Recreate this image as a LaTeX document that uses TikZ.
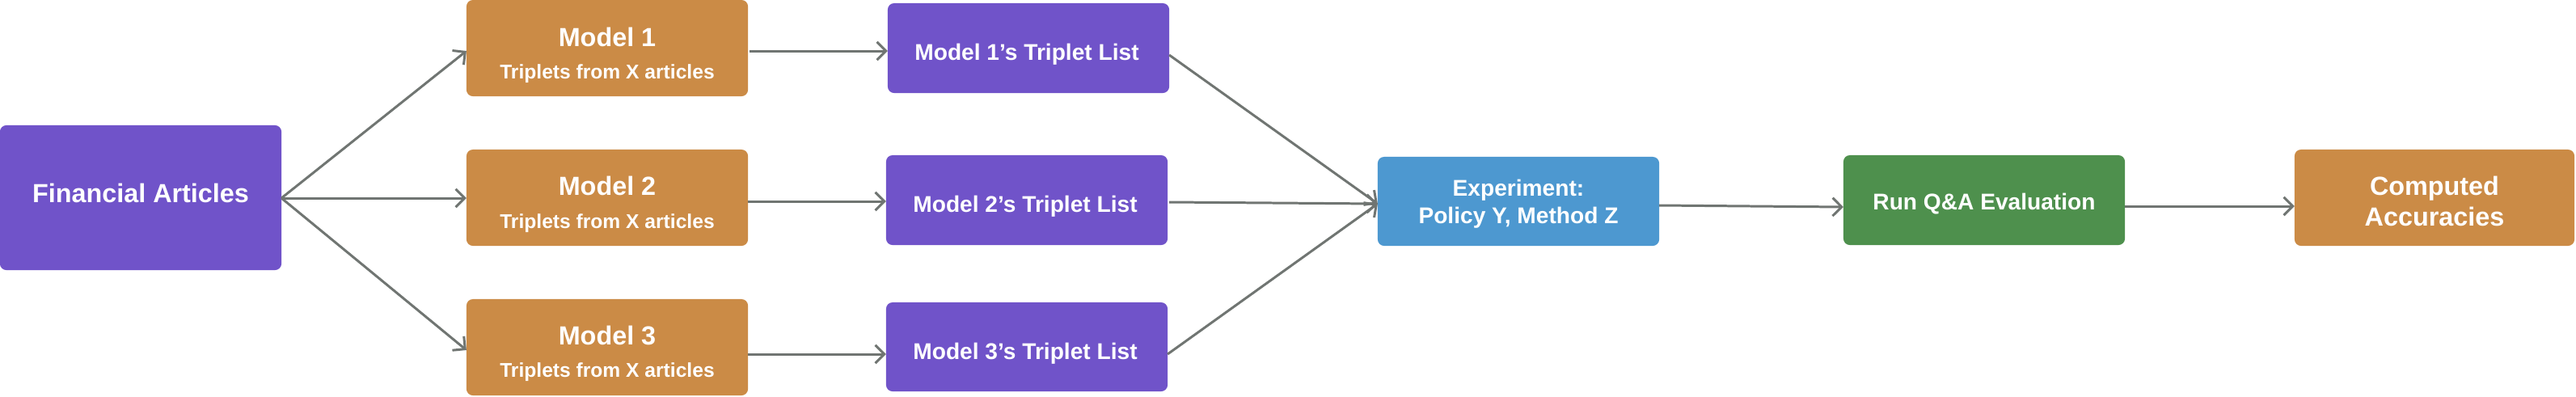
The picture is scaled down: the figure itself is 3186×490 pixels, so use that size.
\documentclass[tikz,border=0pt]{standalone}
\usepackage{fontspec}
\setmainfont{Liberation Sans}
\usetikzlibrary{arrows.meta}
\definecolor{cpurple}{RGB}{112,83,201}
\definecolor{corange}{RGB}{203,139,70}
\definecolor{cblue}{RGB}{77,152,208}
\definecolor{cgreen}{RGB}{78,144,77}
\definecolor{carrow}{RGB}{112,117,114}
\begin{document}
\begin{tikzpicture}[x=0.01cm,y=-0.01cm,
  box/.style={rounded corners=0.08cm, inner sep=0pt, outer sep=0pt, draw=none},
  bigbox/.style={box, minimum width=3.48cm},
  txt/.style={anchor=base, inner sep=0pt, text=white, font=\bfseries},
  big/.style={txt, font=\bfseries\fontsize{9.2}{11}\selectfont},
  mid/.style={txt, font=\bfseries\fontsize{8}{10}\selectfont},
  small/.style={txt, font=\bfseries\fontsize{7}{9}\selectfont},
  arr/.style={draw=carrow, line width=0.85pt, -{Straight Barb[length=3.2pt,width=6.4pt,line width=0.85pt]}}
]
\useasboundingbox (0,0) rectangle (3186,490);

% boxes
\node[bigbox, fill=cpurple, minimum height=1.79cm] (fa) at (174,244.5) {};
\node[bigbox, fill=corange, minimum height=1.19cm] (m1) at (751,59.5) {};
\node[bigbox, fill=corange, minimum height=1.19cm] (m2) at (751,244.5) {};
\node[bigbox, fill=corange, minimum height=1.19cm] (m3) at (751,429.5) {};
\node[bigbox, fill=cpurple, minimum height=1.11cm] (t1) at (1272,59.5) {};
\node[bigbox, fill=cpurple, minimum height=1.11cm] (t2) at (1270,247.5) {};
\node[bigbox, fill=cpurple, minimum height=1.10cm] (t3) at (1270,429) {};
\node[bigbox, fill=cblue, minimum height=1.10cm] (ex) at (1878,249) {};
\node[bigbox, fill=cgreen, minimum height=1.11cm] (run) at (2454,247.5) {};
\node[box, fill=corange, minimum width=3.46cm, minimum height=1.19cm] (comp) at (3011,244.5) {};

% texts
\node[big] (fatxt) at (174,250.5) {Financial Articles};
\node[big] (m1a) at (751,57) {Model 1};
\node[small] (m1b) at (751,97) {Triplets from X articles};
\node[big] (m2a) at (751,241) {Model 2};
\node[small] (m2b) at (751,282) {Triplets from X articles};
\node[big] (m3a) at (751,426.5) {Model 3};
\node[small] (m3b) at (751,466.5) {Triplets from X articles};
\node[mid] (t1txt) at (1270,74) {Model 1’s Triplet List};
\node[mid] (t2txt) at (1268,262) {Model 2’s Triplet List};
\node[mid] (t3txt) at (1268,444) {Model 3’s Triplet List};
\node[mid] (exa) at (1878,242) {Experiment:};
\node[mid] (exb) at (1878,276) {Policy Y, Method Z};
\node[mid] (runtxt) at (2454,259) {Run Q\&A Evaluation};
\node[big] (compa) at (3011,241) {Computed};
\node[big] (compb) at (3011,279) {Accuracies};

% connectors
\draw[arr] ([shift={(0,0.5)}]fa.east) -- ([shift={(0,3.5)}]m1.west);
\draw[arr] ([shift={(0,0.5)}]fa.east) -- ([shift={(0,0.5)}]m2.west);
\draw[arr] ([shift={(0,0.5)}]fa.east) -- ([shift={(0,3.5)}]m3.west);
\draw[arr] ([shift={(2,3.5)}]m1.east) -- ([shift={(0,3.5)}]t1.west);
\draw[arr] ([shift={(0,4.5)}]m2.east) -- ([shift={(0,1.5)}]t2.west);
\draw[arr] ([shift={(0,8.5)}]m3.east) -- ([shift={(0,9)}]t3.west);
\draw[arr] ([shift={(0,8.5)}]t1.east) -- ([shift={(0,3)}]ex.west);
\draw[arr] ([shift={(2,2.5)}]t2.east) -- ([shift={(0,3)}]ex.west);
\draw[arr] ([shift={(0,9)}]t3.east) -- ([shift={(0,3)}]ex.west);
\draw[arr] ([shift={(0,5)}]ex.east) -- ([shift={(0,8.5)}]run.west);
\draw[arr] ([shift={(0,7.5)}]run.east) -- ([shift={(0,10.5)}]comp.west);
\end{tikzpicture}
\end{document}
